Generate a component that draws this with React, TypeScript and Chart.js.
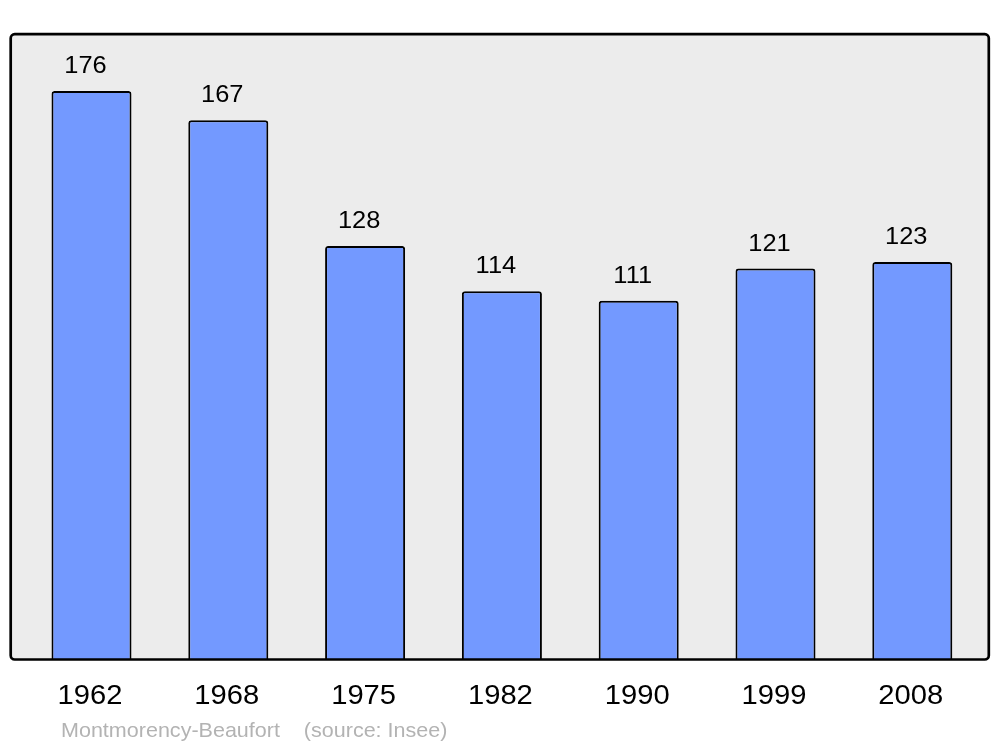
import React, { useEffect, useRef } from "react";
import { Chart, registerables } from "chart.js";

Chart.register(...registerables);

const years = ["1962", "1968", "1975", "1982", "1990", "1999", "2008"];
const population = [176, 167, 128, 114, 111, 121, 123];
const yMax = 193.7;
const sourceText = "Montmorency-Beaufort    (source: Insee)";

const FONT = "'Liberation Sans', Arial, sans-serif";

function roundRect(ctx: CanvasRenderingContext2D, x: number, y: number, w: number, h: number, r: number) {
  ctx.beginPath();
  ctx.moveTo(x + r, y);
  ctx.lineTo(x + w - r, y);
  ctx.arcTo(x + w, y, x + w, y + r, r);
  ctx.lineTo(x + w, y + h - r);
  ctx.arcTo(x + w, y + h, x + w - r, y + h, r);
  ctx.lineTo(x + r, y + h);
  ctx.arcTo(x, y + h, x, y + h - r, r);
  ctx.lineTo(x, y + r);
  ctx.arcTo(x, y, x + r, y, r);
  ctx.closePath();
}

const FRAME = { left: 10.7, top: 34.2, right: 988.8, bottom: 659.5 };

const framePlugin = {
  id: "frame",
  beforeDatasetsDraw(chart: any) {
    const ctx = chart.ctx as CanvasRenderingContext2D;
    ctx.save();
    roundRect(ctx, FRAME.left, FRAME.top, FRAME.right - FRAME.left, FRAME.bottom - FRAME.top, 4);
    ctx.fillStyle = "#ececec";
    ctx.fill();
    ctx.restore();
  },
  afterDatasetsDraw(chart: any) {
    const ctx = chart.ctx as CanvasRenderingContext2D;
    ctx.save();
    roundRect(ctx, FRAME.left, FRAME.top, FRAME.right - FRAME.left, FRAME.bottom - FRAME.top, 4);
    ctx.strokeStyle = "#000";
    ctx.lineWidth = 2.7;
    ctx.stroke();

    // value labels
    const meta = chart.getDatasetMeta(0);
    ctx.fillStyle = "#000";
    ctx.textAlign = "center";
    ctx.textBaseline = "alphabetic";
    meta.data.forEach((bar: any, i: number) => {
      ctx.save();
      ctx.translate(bar.x - 6, bar.y - 18);
      ctx.scale(1.06, 1);
      ctx.font = `24px ${FONT}`;
      ctx.fillText(String(population[i]), 0, 0);
      ctx.restore();
    });

    // category labels
    const xs = chart.scales.x;
    years.forEach((y, i) => {
      const x = xs.getPixelForValue(i);
      ctx.save();
      ctx.translate(x - 1.5, 704);
      ctx.scale(1.08, 1);
      ctx.font = `27px ${FONT}`;
      ctx.fillText(y, 0, 0);
      ctx.restore();
    });

    // source
    ctx.save();
    ctx.textAlign = "left";
    ctx.fillStyle = "#b3b3b3";
    ctx.font = `21px ${FONT}`;
    ctx.translate(61, 737);
    ctx.scale(1.025, 1);
    ctx.fillText(sourceText, 0, 0);
    ctx.restore();
    ctx.restore();
  },
};

export default function App() {
  const ref = useRef<HTMLCanvasElement | null>(null);
  useEffect(() => {
    if (!ref.current) return;
    const chart = new Chart(ref.current, {
      type: "bar",
      data: {
        labels: years,
        datasets: [
          {
            data: population,
            backgroundColor: "#7399ff",
            borderColor: "#000",
            borderWidth: 2,
            borderRadius: { topLeft: 3, topRight: 3, bottomLeft: 0, bottomRight: 0 },
            borderSkipped: "bottom",
            categoryPercentage: 1,
            barPercentage: 0.585,
          },
        ],
      },
      options: {
        responsive: false,
        animation: false,
        layout: { padding: { left: 23.1, right: 19.3, top: 34, bottom: 88 } },
        plugins: { legend: { display: false }, tooltip: { enabled: false } },
        scales: {
          x: { display: false },
          y: { display: false, min: 0, max: yMax },
        },
      },
      plugins: [framePlugin],
    });
    return () => chart.destroy();
  }, []);
  return (
    <div style={{ position: "fixed", left: 0, top: 0, width: 1000, height: 747, background: "#fff" }}>
      <canvas ref={ref} width={1000} height={747} style={{ width: 1000, height: 747 }} />
    </div>
  );
}
